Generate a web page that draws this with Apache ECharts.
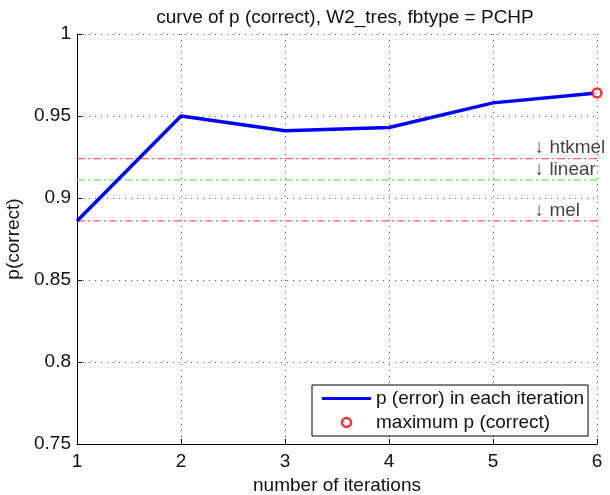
<!DOCTYPE html>
<html><head><meta charset="utf-8">
<script src="https://cdn.jsdelivr.net/npm/echarts@6/dist/echarts.min.js"></script>
<style>html,body{margin:0;padding:0;background:#fff}#c{width:610px;height:495px}</style>
</head><body><div id="c"></div>
<script>
const iterations = [1, 2, 3, 4, 5, 6];
const pCorrect = [0.886, 0.950, 0.941, 0.943, 0.958, 0.964];
const baselineNames = ['htkmel', 'linear', 'mel'];
const baselineValues = [0.924, 0.911, 0.886];
const baselineColors = ['#ff6666', '#66ee66', '#ff6666'];
const yTicks = [0.75, 0.8, 0.85, 0.9, 0.95, 1];
const xTicks = [1, 2, 3, 4, 5, 6];

const FONT = 'Liberation Sans, Arial, sans-serif';
const FS = 19;
const maxIdx = pCorrect.indexOf(Math.max(...pCorrect));

const baselineSeries = baselineValues.map((v, i) => ({
  type: 'line', name: baselineNames[i], symbol: 'none', silent: true,
  data: [[xTicks[0], v], [xTicks[xTicks.length - 1], v]],
  lineStyle: { color: baselineColors[i], width: 1.3, type: [8, 3, 2, 3] },
  z: 2
}));

const annotation = {
  type: 'scatter', name: 'annot', symbolSize: 0, silent: true,
  data: baselineValues.map((v, i) => ({ value: [5.4, v + 0.0065], name: baselineNames[i] })),
  label: { show: true, position: 'right', distance: 0, formatter: p => '\u2193 ' + p.name,
           color: '#111', fontSize: FS, fontFamily: FONT },
  z: 3
};

const option = {
  animation: false,
  backgroundColor: '#fff',
  title: { text: 'curve of p (correct), W2_tres, fbtype = PCHP', left: 340, textAlign: 'center', top: 3,
           textStyle: { fontSize: FS, fontWeight: 'normal', color: '#111', fontFamily: FONT } },
  grid: { left: 77, right: 13, top: 34, bottom: 51, show: false, containLabel: false, outerBoundsMode: 'none' },
  legend: {
    data: [
      { name: 'p (error) in each iteration', icon: 'path://M0,0H49V3H0Z', itemStyle: { color: '#0000ff' } },
      { name: 'maximum p (correct)', icon: 'circle', itemStyle: { color: '#fff', borderColor: '#ff0000', borderWidth: 2.5 } }
    ],
    orient: 'vertical', left: 312, top: 385,
    itemWidth: 49, itemHeight: 9,
    backgroundColor: '#fff', borderColor: '#000', borderWidth: 1,
    padding: [4, 4, 4, 10], itemGap: 5,
    textStyle: { fontSize: FS, color: '#111', fontFamily: FONT, width: 208, overflow: 'none' },
    selectedMode: false
  },
  xAxis: {
    type: 'value', min: 1, max: 6, interval: 1,
    name: 'number of iterations', nameLocation: 'middle', nameGap: 26,
    nameTextStyle: { fontSize: FS, color: '#111', fontFamily: FONT },
    axisLine: { show: true, lineStyle: { color: '#000' } },
    axisTick: { inside: true, length: 5, lineStyle: { color: '#000' } },
    axisLabel: { fontSize: FS, color: '#111', fontFamily: FONT, margin: 8 },
    splitLine: { show: true, lineStyle: { color: '#555', type: [1, 5] } }
  },
  yAxis: {
    type: 'value', min: yTicks[0], max: yTicks[yTicks.length - 1], interval: 0.05,
    name: 'p(correct)', nameLocation: 'middle', nameGap: 50, nameRotate: 90,
    nameTextStyle: { fontSize: FS, color: '#111', fontFamily: FONT },
    axisLine: { show: true, lineStyle: { color: '#000' } },
    axisTick: { inside: true, length: 5, lineStyle: { color: '#000' } },
    axisLabel: { fontSize: FS, color: '#111', fontFamily: FONT, margin: 6 },
    splitLine: { show: true, lineStyle: { color: '#555', type: [1, 5] } }
  },
  series: [
    ...baselineSeries,
    {
      type: 'line', name: 'p (error) in each iteration', symbol: 'none',
      data: iterations.map((x, i) => [x, pCorrect[i]]),
      lineStyle: { color: '#0000ff', width: 3.5 }, itemStyle: { color: '#0000ff' }, z: 4
    },
    {
      type: 'scatter', name: 'maximum p (correct)', symbol: 'circle', symbolSize: 9,
      data: [[iterations[maxIdx], pCorrect[maxIdx]]],
      itemStyle: { color: '#fff', borderColor: '#ff0000', borderWidth: 2.5 }, z: 5
    },
    annotation
  ]
};
const chart = echarts.init(document.getElementById('c'), null, { renderer: 'canvas' });
chart.setOption(option);
</script></body></html>
